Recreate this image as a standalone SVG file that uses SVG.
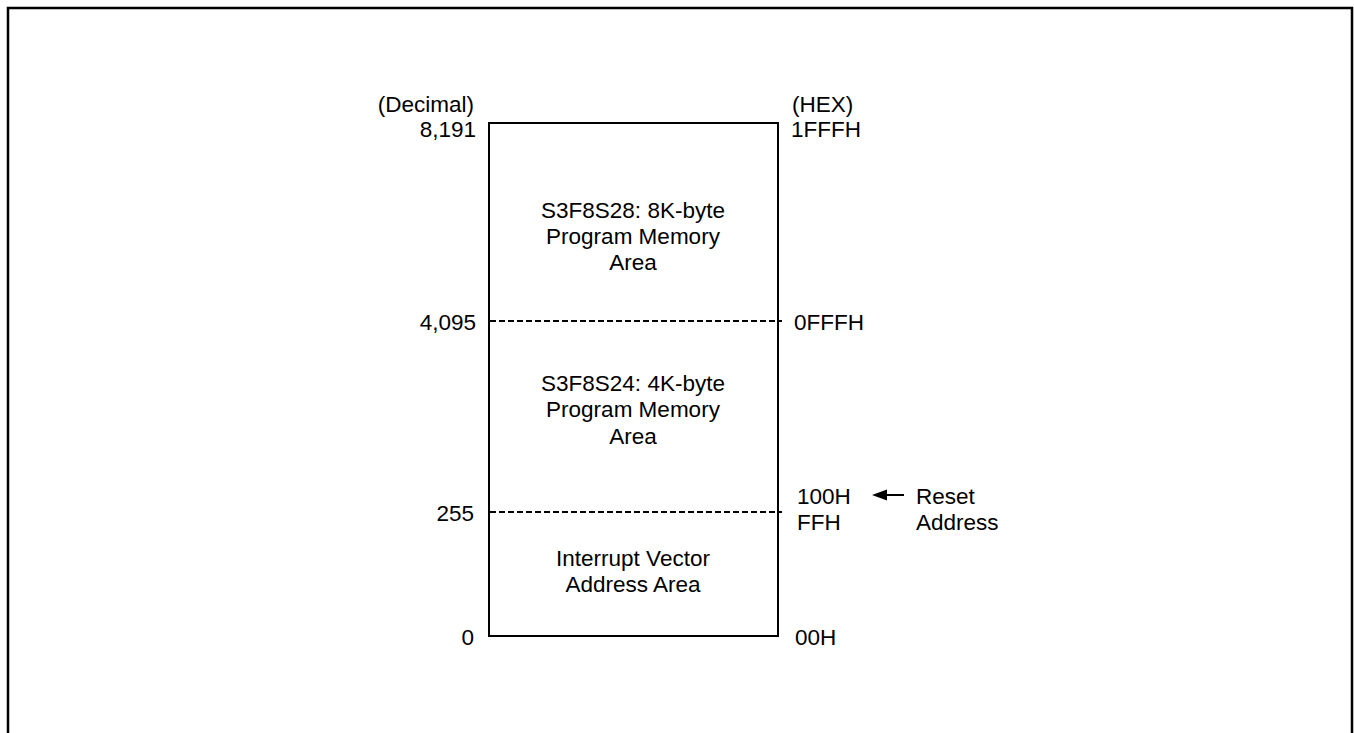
<svg xmlns="http://www.w3.org/2000/svg" width="1354" height="733" viewBox="0 0 1354 733">
<defs>
<style>
.t{font-family:"Liberation Sans",Arial,sans-serif;font-size:22.5px;fill:#000}
.r{text-anchor:end}
.c{text-anchor:middle}
.box{fill:none;stroke:#000;stroke-width:2}
.dash{stroke:#000;stroke-width:2;stroke-dasharray:6 3;fill:none}
</style>
</defs>
<rect width="1354" height="733" fill="#fff"/>
<path d="M8 740 V8 H1352 V740" fill="none" stroke="#000" stroke-width="2.5"/>
<g id="memory-map">
<rect class="box" x="489" y="123" width="289" height="513"/>
</g>
<g id="connectors">
<line class="dash" x1="490" y1="321" x2="782" y2="321"/>
<line class="dash" x1="490" y1="512" x2="782" y2="512"/>
<line x1="904" y1="495" x2="884" y2="495" stroke="#000" stroke-width="2"/>
<polygon points="872,495 887,489.5 887,500.5" fill="#000"/>
</g>
<g id="area-8k">
<text class="t c" x="633" y="218">S3F8S28: 8K-byte</text>
<text class="t c" x="633" y="244">Program Memory</text>
<text class="t c" x="633" y="270">Area</text>
</g>
<g id="area-4k">
<text class="t c" x="633" y="391">S3F8S24: 4K-byte</text>
<text class="t c" x="633" y="417">Program Memory</text>
<text class="t c" x="633" y="444">Area</text>
</g>
<g id="area-vector">
<text class="t c" x="633" y="566">Interrupt Vector</text>
<text class="t c" x="633" y="592">Address Area</text>
</g>
<g id="decimal-labels">
<text class="t r" x="474" y="112">(Decimal)</text>
<text class="t r" x="476" y="137">8,191</text>
<text class="t r" x="476" y="330">4,095</text>
<text class="t r" x="474" y="521">255</text>
<text class="t r" x="474" y="645">0</text>
</g>
<g id="hex-labels">
<text class="t" x="792" y="112">(HEX)</text>
<text class="t" x="791" y="137">1FFFH</text>
<text class="t" x="794" y="330">0FFFH</text>
<text class="t" x="797" y="504">100H</text>
<text class="t" x="797" y="530">FFH</text>
<text class="t" x="795" y="645">00H</text>
</g>
<g id="reset-address">
<text class="t" x="916" y="504">Reset</text>
<text class="t" x="916" y="530">Address</text>
</g>
</svg>
